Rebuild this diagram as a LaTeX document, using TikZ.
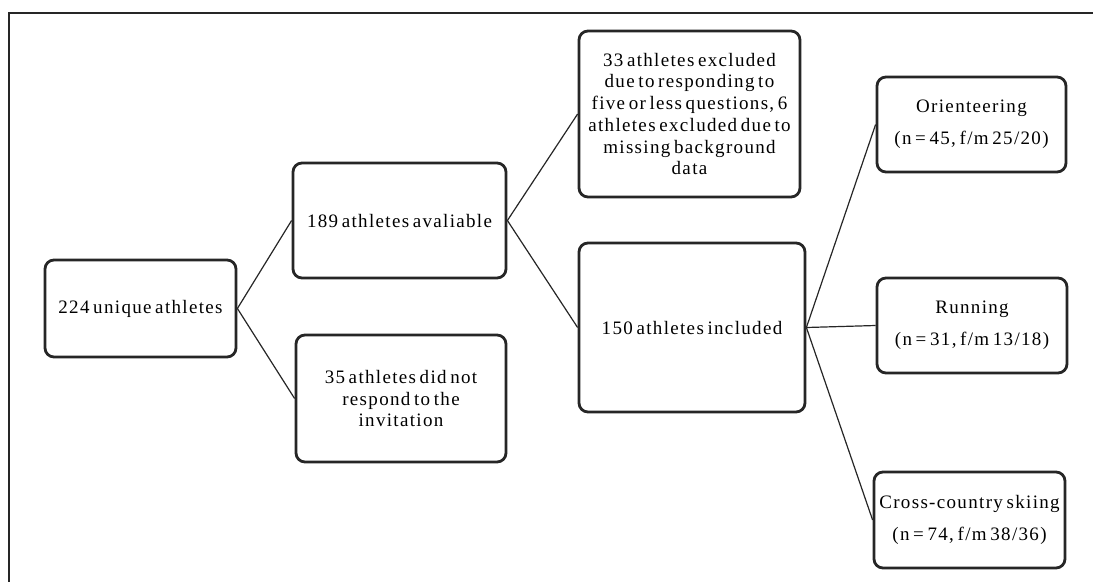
\documentclass[tikz,border=0pt]{standalone}
\usepackage{fontspec}
\setmainfont{Liberation Serif}[LetterSpace=7,WordSpace=0.6]
\begin{document}
\begin{tikzpicture}[x=1pt,y=-1pt,
  box/.style={draw=black!85, line width=2.8pt, rounded corners=9pt, inner sep=0pt,
    align=center, font=\fontsize{19}{21.7}\selectfont},
  sport/.style={box, font=\fontsize{19}{32}\selectfont},
  link/.style={draw=black!85, line width=1.2pt}]
\useasboundingbox (0,0) rectangle (1093,582);
\fill[white] (0,0) rectangle (1093,582);
\coordinate (fr1) at (1093,13);
\coordinate (fr2) at (9,13);
\coordinate (fr3) at (9,582);
\draw[black!85, line width=1.4pt] (fr1) -- (fr2) -- (fr3);

\node[box, minimum width=191pt, minimum height=97pt] (A) at (140.5,308.5) {224 unique athletes};
\node[box, minimum width=213pt, minimum height=115pt] (B) at (399.5,220.5) {189 athletes avaliable};
\node[box, minimum width=210pt, minimum height=127pt] (C) at (401,398.5) {35 athletes did not\\respond to the\\invitation};
\node[box, minimum width=221pt, minimum height=166pt] (D) at (689.5,114) {33 athletes excluded\\due to responding to\\five or less questions, 6\\athletes excluded due to\\missing background\\data};
\node[box, minimum width=226pt, minimum height=169pt] (E) at (692,327.5) {150 athletes included};
\node[sport, minimum width=189pt, minimum height=95pt] (F) at (971.5,124.5) {Orienteering\\(n = 45, f/m 25/20)};
\node[sport, minimum width=190pt, minimum height=95pt] (G) at (972,325.5) {Running\\(n = 31, f/m 13/18)};
\node[sport, minimum width=191pt, minimum height=96pt] (H) at (969.5,520) {Cross-country skiing\\(n = 74, f/m 38/36)};

\draw[link] (B.west) -- (A.east) -- (C.west);
\draw[link] (D.west) -- (B.east) -- (E.west);
\draw[link] (F.west) -- (E.east) -- (H.west);
\draw[link] (E.east) -- (G.west);
\end{tikzpicture}
\end{document}
